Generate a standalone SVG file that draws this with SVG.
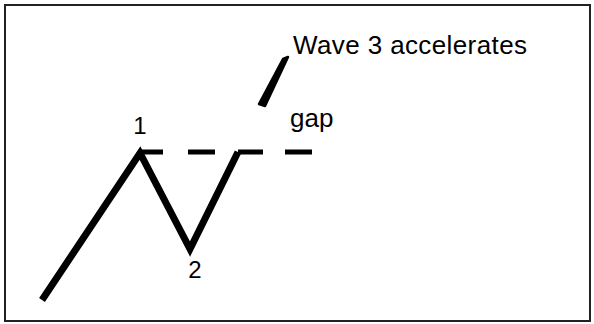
<svg xmlns="http://www.w3.org/2000/svg" width="594" height="324" viewBox="0 0 594 324">
<style>
.t{font-family:"Liberation Sans",Arial,sans-serif;font-size:26px;fill:#000}
.n{font-size:24px}
.w{fill:none;stroke:#000;stroke-width:7;stroke-linejoin:miter;stroke-linecap:butt}
.d{stroke:#000;stroke-width:5}
</style>
<rect x="5" y="5" width="585" height="316" fill="#fff" stroke="#222" stroke-width="2"/>
<g id="connectors">
<polyline class="w" points="42,300 140,153 190,249 238,152"/>
<g id="gap-line">
<line class="d" x1="140" y1="152" x2="163" y2="152"/>
<line class="d" x1="188" y1="152" x2="215" y2="152"/>
<line class="d" x1="238" y1="152" x2="263" y2="152"/>
<line class="d" x1="285" y1="152" x2="312" y2="152"/>
</g>
<path id="wave3" d="M259,104 L283,59 L288,57 L265,106 Z" fill="#000" stroke="#000" stroke-width="2.5" stroke-linejoin="round"/>
</g>
<g id="label-1"><text class="t n" x="140" y="134" text-anchor="middle">1</text></g>
<g id="label-2"><text class="t n" x="195" y="278" text-anchor="middle">2</text></g>
<g id="label-gap"><text class="t" x="290" y="127">gap</text></g>
<g id="label-wave3"><text class="t" x="293" y="54" font-size="26.5" textLength="234">Wave 3 accelerates</text></g>
</svg>
